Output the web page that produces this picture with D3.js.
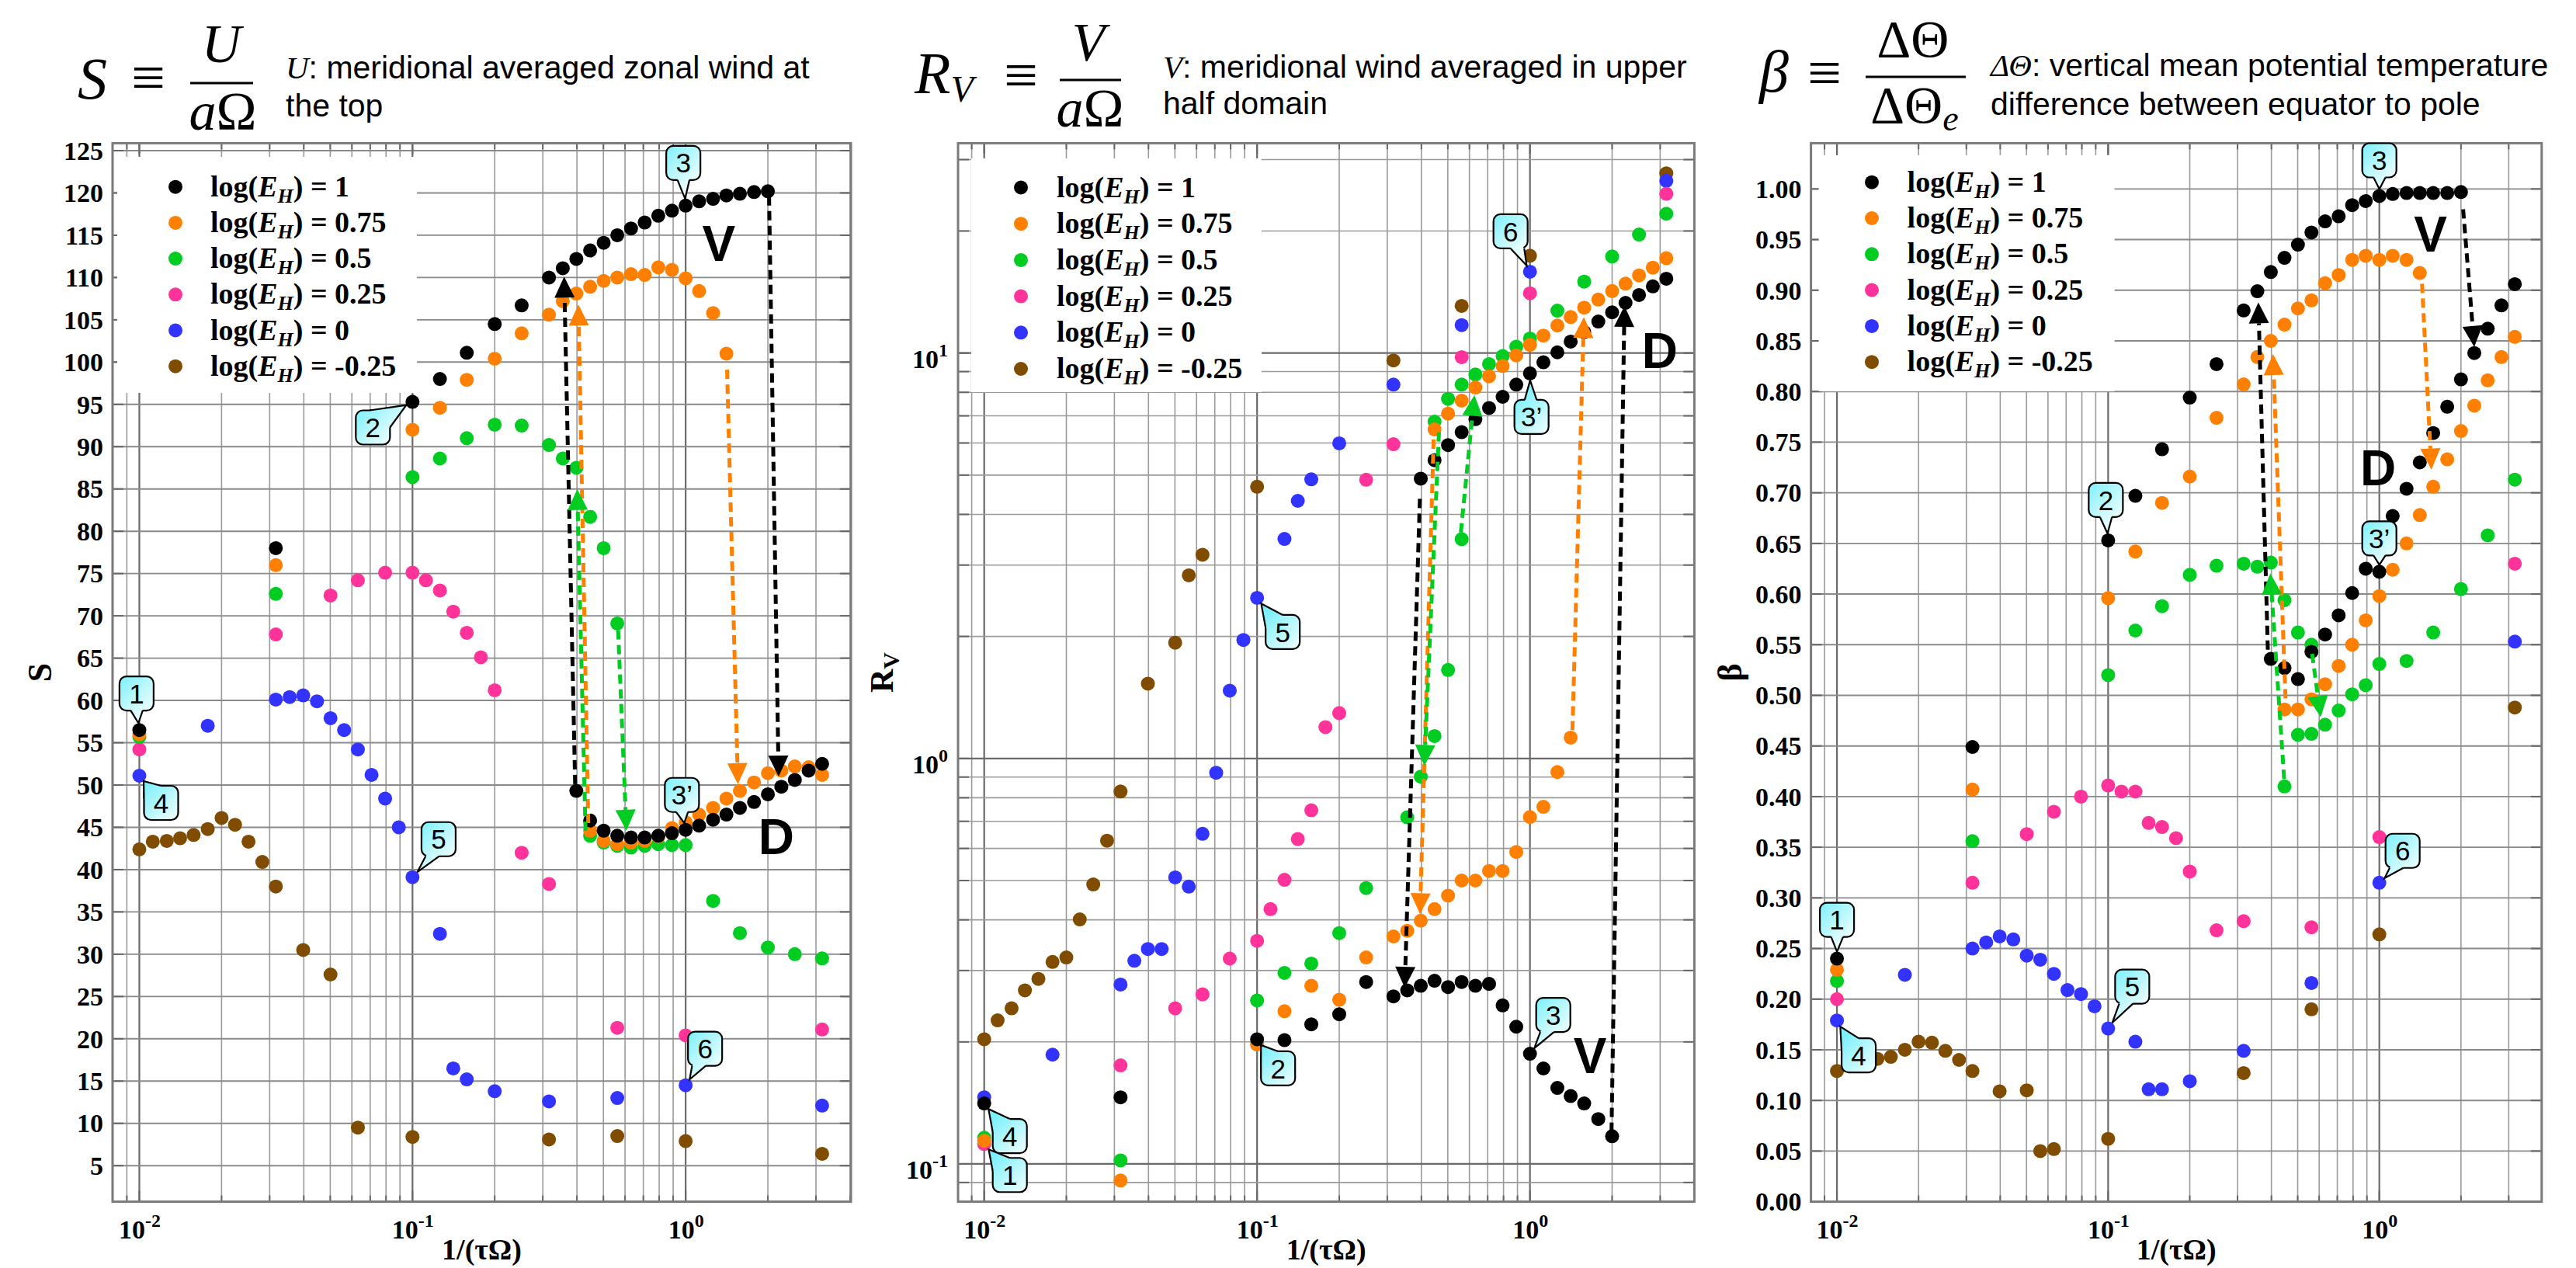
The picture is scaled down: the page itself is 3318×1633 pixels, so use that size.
<!DOCTYPE html>
<html><head><meta charset="utf-8">
<script src="https://cdn.jsdelivr.net/npm/d3@7"></script>
<style>body{margin:0;background:#fff}svg{display:block}</style>
</head><body>
<svg id="c" width="3318" height="1633"></svg>
<script>
// ================= DATA =================
const seriesLabels = ["1", "0.75", "0.5", "0.25", "0", "-0.25"];
const seriesColors = ["#000000", "#ff8000", "#00cc22", "#ff3399", "#3333ff", "#7f4c00"];

// ---- S panel ----
const S_EH1 = [[0.01,56.5],[0.0316,78.0],[0.1,95.3],[0.126,98.0],[0.158,101.1],[0.2,104.5],[0.251,106.7],[0.316,110.0],[0.355,111.1],[0.398,112.2],[0.447,113.2],[0.501,114.1],[0.562,115.0],[0.631,115.8],[0.708,116.5],[0.794,117.3],[0.891,117.9],[1,118.5],[1.12,119.0],[1.26,119.3],[1.41,119.7],[1.58,119.9],[1.78,120.1],[2.0,120.2],
  [0.398,49.3],[0.447,45.8],[0.501,44.6],[0.562,44.0],[0.631,43.8],[0.708,43.8],[0.794,44.0],[0.891,44.3],[1,44.7],[1.12,45.2],[1.26,45.9],[1.41,46.5],[1.58,47.3],[1.78,48.0],[2.0,48.9],[2.24,49.8],[2.51,50.6],[2.82,51.7],[3.16,52.5]];
const S_EH075 = [[0.01,56.0],[0.0316,76.0],[0.1,92.0],[0.126,94.6],[0.158,97.9],[0.2,100.4],[0.251,103.4],[0.316,105.6],[0.355,107.2],[0.398,108.1],[0.447,108.9],[0.501,109.6],[0.562,110.0],[0.631,110.4],[0.708,110.3],[0.794,111.2],[0.891,110.9],[1,109.9],[1.12,108.4],[1.26,105.8],[1.41,101.0],
  [0.447,44.6],[0.501,43.4],[0.562,43.0],[0.631,43.2],[0.708,43.4],[0.794,43.9],[0.891,44.9],[1,45.6],[1.12,46.5],[1.26,47.3],[1.41,48.4],[1.58,49.3],[1.78,50.3],[2.0,51.4],[2.24,51.7],[2.51,52.2],[2.82,52.1],[3.16,51.2]];
const S_EH05 = [[0.01,55.7],[0.0316,72.6],[0.1,86.4],[0.126,88.6],[0.158,91.0],[0.2,92.6],[0.251,92.5],[0.316,90.2],[0.355,88.6],[0.398,87.5],[0.447,81.7],[0.501,78.0],[0.562,69.1],
  [0.447,44.0],[0.501,43.2],[0.562,42.8],[0.631,42.6],[0.708,42.8],[0.794,43.0],[0.891,42.9],[1,42.9],[1.26,36.3],[1.58,32.5],[2.0,30.8],[2.51,30.0],[3.16,29.5]];
const S_EH025 = [[0.01,54.2],[0.0316,67.8],[0.0501,72.4],[0.0631,74.2],[0.0794,75.1],[0.1,75.1],[0.112,74.2],[0.126,73.0],[0.141,70.5],[0.158,68.0],[0.178,65.1],[0.2,61.2],[0.251,42.0],[0.316,38.3],[0.562,21.3],[1,20.4],[3.16,21.1]];
const S_EH0 = [[0.01,51.1],[0.0178,57.0],[0.0316,60.1],[0.0355,60.4],[0.0398,60.6],[0.0447,59.9],[0.0501,57.9],[0.0562,56.5],[0.0631,54.2],[0.0708,51.2],[0.0794,48.4],[0.0891,45.0],[0.1,39.1],[0.126,32.4],[0.141,16.5],[0.158,15.2],[0.2,13.8],[0.316,12.6],[0.562,13.0],[1,14.5],[3.16,12.1]];
const S_EHm025 = [[0.01,42.4],[0.0112,43.3],[0.0126,43.4],[0.0141,43.7],[0.0158,44.1],[0.0178,44.8],[0.02,46.1],[0.0224,45.3],[0.0251,43.3],[0.0282,40.9],[0.0316,38.0],[0.0398,30.5],[0.0501,27.6],[0.0631,9.5],[0.1,8.4],[0.316,8.1],[0.562,8.5],[1,7.9],[3.16,6.4]];

// ---- R_V panel ----
const RV_EH1 = [[0.01,0.141],[0.0316,0.146],[0.1,0.203],[0.126,0.202],[0.158,0.221],[0.2,0.234],[0.251,0.281],[0.316,0.259],[0.355,0.268],[0.398,0.275],[0.447,0.283],[0.501,0.273],[0.562,0.281],[0.631,0.275],[0.708,0.278],[0.794,0.246],[0.891,0.218],[1,0.187],[1.12,0.172],[1.26,0.154],[1.41,0.147],[1.58,0.141],[1.78,0.129],[2.0,0.117],
  [0.398,4.90],[0.447,5.44],[0.501,5.93],[0.562,6.38],[0.631,6.87],[0.708,7.32],[0.794,7.80],[0.891,8.36],[1,8.91],[1.12,9.49],[1.26,10.04],[1.41,10.67],[1.58,11.27],[1.78,11.96],[2.0,12.6],[2.24,13.3],[2.51,13.9],[2.82,14.6],[3.16,15.25]];
const RV_EH075 = [[0.01,0.114],[0.0316,0.091],[0.1,0.197],[0.126,0.238],[0.158,0.275],[0.2,0.254],[0.251,0.323],[0.316,0.364],[0.355,0.376],[0.398,0.398],[0.447,0.425],[0.501,0.459],[0.562,0.500],[0.631,0.500],[0.708,0.528],[0.794,0.528],[0.891,0.588],[1,0.717],[1.12,0.760],[1.26,0.926],[1.41,1.126],
  [0.447,6.48],[0.501,7.09],[0.562,7.63],[0.631,8.22],[0.708,8.76],[0.794,9.29],[0.891,9.87],[1,10.48],[1.12,11.04],[1.26,11.69],[1.41,12.27],[1.58,12.94],[1.78,13.55],[2.0,14.22],[2.24,14.83],[2.51,15.54],[2.82,16.24],[3.16,17.13]];
const RV_EH05 = [[0.01,0.116],[0.0316,0.102],[0.1,0.253],[0.126,0.296],[0.158,0.312],[0.2,0.371],[0.251,0.479],[0.355,0.716],[0.398,0.902],[0.447,1.136],[0.501,1.653],[0.562,3.475],
  [0.447,6.77],[0.501,7.71],[0.562,8.36],[0.631,8.85],[0.708,9.39],[0.794,9.83],[0.891,10.37],[1,10.86],[1.26,12.72],[1.58,15.0],[2.0,17.3],[2.51,19.6],[3.16,22.06]];
const RV_EH025 = [[0.01,0.112],[0.0316,0.175],[0.0501,0.242],[0.0631,0.262],[0.0794,0.321],[0.1,0.355],[0.112,0.425],[0.126,0.502],[0.141,0.633],[0.158,0.745],[0.178,1.195],[0.2,1.294],[0.251,4.87],[0.316,5.96],[0.562,9.77],[1,14.04],[3.16,24.7]];
const RV_EH0 = [[0.01,0.146],[0.0178,0.186],[0.0316,0.277],[0.0355,0.317],[0.0398,0.339],[0.0447,0.339],[0.0501,0.509],[0.0562,0.483],[0.0631,0.652],[0.0708,0.922],[0.0794,1.47],[0.0891,1.96],[0.1,2.49],[0.126,3.48],[0.141,4.32],[0.158,4.88],[0.2,5.99],[0.316,8.36],[0.562,11.72],[1,15.87],[3.16,26.6]];
const RV_EHm025 = [[0.01,0.203],[0.0112,0.226],[0.0126,0.242],[0.0141,0.268],[0.0158,0.286],[0.0178,0.315],[0.02,0.323],[0.0224,0.401],[0.0251,0.489],[0.0282,0.627],[0.0316,0.829],[0.0398,1.53],[0.0501,1.93],[0.0562,2.83],[0.0631,3.18],[0.1,4.68],[0.316,9.59],[0.562,13.07],[1,17.38],[3.16,27.76]];

// ---- beta panel ----
const B_EH1 = [[0.01,0.240],[0.0316,0.449],[0.1,0.653],[0.126,0.697],[0.158,0.743],[0.2,0.794],[0.251,0.827],[0.316,0.880],[0.355,0.899],[0.398,0.918],[0.447,0.932],[0.501,0.945],[0.562,0.957],[0.631,0.968],[0.708,0.973],[0.794,0.984],[0.891,0.988],[1,0.993],[1.12,0.995],[1.26,0.996],[1.41,0.996],[1.58,0.996],[1.78,0.996],[2.0,0.997],
  [0.398,0.536],[0.447,0.527],[0.501,0.516],[0.562,0.543],[0.631,0.560],[0.708,0.579],[0.794,0.601],[0.891,0.625],[1,0.622],[1.12,0.677],[1.26,0.704],[1.41,0.730],[1.58,0.759],[1.78,0.785],[2.0,0.812],[2.24,0.838],[2.51,0.862],[2.82,0.885],[3.16,0.906]];
const B_EH075 = [[0.01,0.229],[0.0316,0.407],[0.1,0.596],[0.126,0.642],[0.158,0.690],[0.2,0.716],[0.251,0.774],[0.316,0.807],[0.355,0.834],[0.398,0.850],[0.447,0.866],[0.501,0.882],[0.562,0.890],[0.631,0.907],[0.708,0.915],[0.794,0.930],[0.891,0.934],[1,0.930],[1.12,0.934],[1.26,0.930],[1.41,0.917],
  [0.447,0.486],[0.501,0.486],[0.562,0.496],[0.631,0.511],[0.708,0.529],[0.794,0.550],[0.891,0.574],[1,0.598],[1.12,0.624],[1.26,0.650],[1.41,0.678],[1.58,0.706],[1.78,0.733],[2.0,0.761],[2.24,0.786],[2.51,0.811],[2.82,0.834],[3.16,0.854]];
const B_EH05 = [[0.01,0.218],[0.0316,0.356],[0.1,0.520],[0.126,0.564],[0.158,0.588],[0.2,0.619],[0.251,0.628],[0.316,0.630],[0.355,0.627],[0.398,0.631],[0.447,0.594],[0.501,0.562],[0.562,0.550],
  [0.447,0.410],[0.501,0.461],[0.562,0.462],[0.631,0.471],[0.708,0.485],[0.794,0.501],[0.891,0.510],[1,0.531],[1.26,0.534],[1.58,0.562],[2.0,0.605],[2.51,0.658],[3.16,0.713]];
const B_EH025 = [[0.01,0.200],[0.0316,0.315],[0.0501,0.363],[0.0631,0.385],[0.0794,0.400],[0.1,0.411],[0.112,0.405],[0.126,0.405],[0.141,0.374],[0.158,0.370],[0.178,0.359],[0.2,0.326],[0.251,0.268],[0.316,0.277],[0.562,0.271],[1,0.360],[3.16,0.630]];
const B_EH0 = [[0.01,0.179],[0.0178,0.224],[0.0316,0.250],[0.0355,0.256],[0.0398,0.262],[0.0447,0.259],[0.0501,0.243],[0.0562,0.239],[0.0631,0.225],[0.0708,0.209],[0.0794,0.205],[0.0891,0.193],[0.1,0.171],[0.126,0.158],[0.141,0.111],[0.158,0.111],[0.2,0.119],[0.316,0.149],[0.562,0.216],[1,0.315],[3.16,0.553]];
const B_EHm025 = [[0.01,0.129],[0.0112,0.135],[0.0126,0.138],[0.0141,0.141],[0.0158,0.143],[0.0178,0.150],[0.02,0.158],[0.0224,0.157],[0.0251,0.149],[0.0282,0.140],[0.0316,0.129],[0.0398,0.109],[0.0501,0.110],[0.0562,0.050],[0.0631,0.052],[0.1,0.062],[0.316,0.127],[0.562,0.190],[1,0.264],[3.16,0.488]];

// ---- ticks ----
const xTickValues = [0.01, 0.1, 1];
const xTickExponents = ["-2", "-1", "0"];
const S_yTicks = [5,10,15,20,25,30,35,40,45,50,55,60,65,70,75,80,85,90,95,100,105,110,115,120,125];
const RV_yTicks = [0.1, 1, 10];
const RV_yTickExponents = ["-1", "0", "1"];
const B_yTicks = [0,0.05,0.1,0.15,0.2,0.25,0.3,0.35,0.4,0.45,0.5,0.55,0.6,0.65,0.7,0.75,0.8,0.85,0.9,0.95,1.0];
const B_yTickLabels = ["0.00","0.05","0.10","0.15","0.20","0.25","0.30","0.35","0.40","0.45","0.50","0.55","0.60","0.65","0.70","0.75","0.80","0.85","0.90","0.95","1.00"];

// ---- hysteresis arrows (series index, from, to) ----
const S_arrows = [[0,[0.394,50.1],[0.359,110.1]],[0,[2.02,119.6],[2.19,51.0]],[1,[0.44,45.5],[0.405,106.8]],[1,[1.418,99.1],[1.554,50.1]],[2,[0.43,44.6],[0.401,85.0]],[2,[0.566,68.3],[0.607,44.6]]];
const RV_arrows = [[0,[0.395,4.37],[0.3475,0.272]],[0,[1.99,0.120],[2.22,13.07]],[1,[0.4436,6.12],[0.3954,0.413]],[1,[1.431,1.174],[1.576,12.27]],[2,[0.464,6.38],[0.41,0.959]],[2,[0.558,3.61],[0.626,7.88]]];
const B_arrows = [[0,[0.388,0.545],[0.358,0.888]],[0,[2.037,0.98],[2.239,0.844]],[1,[0.4508,0.497],[0.4055,0.837]],[1,[1.437,0.9065],[1.556,0.723]],[2,[0.4457,0.4175],[0.3963,0.6204]],[2,[0.565,0.541],[0.608,0.4786]]];

// ---- callout bubbles: label and the data point they point at ----
const S_bubblePts = [["1",[0.01,56.5]],["2",[0.1,95.3]],["3",[1,118.5]],["3\u2019",[1,44.7]],["4",[0.01,51.1]],["5",[0.1,39.1]],["6",[1,14.5]]];
const RV_bubblePts = [["6",[1,15.87]],["3\u2019",[1,8.91]],["5",[0.1,2.49]],["2",[0.1,0.203]],["3",[1,0.187]],["4",[0.01,0.141]],["1",[0.01,0.112]]];
const B_bubblePts = [["3",[1,0.993]],["2",[0.1,0.653]],["3\u2019",[1,0.622]],["1",[0.01,0.240]],["4",[0.01,0.179]],["5",[0.1,0.171]],["6",[1,0.315]]];

// ---- state labels V / D ----
const S_marks = [["V",[1.323,114.1]],["D",[2.148,43.9]]];
const RV_marks = [["V",[1.66,0.1854]],["D",[2.99,10.16]]];
const B_marks = [["V",[1.543,0.956]],["D",[0.989,0.725]]];

// ================= LAYOUT =================
const SERIF = "'Liberation Serif','Times New Roman',serif";
const SANS = "'Liberation Sans',Arial,sans-serif";
const MATH = "'Liberation Serif','DejaVu Serif',serif";
const TAILS = {b:[[0.33,1],[0.68,1]], t:[[0.3,0],[0.65,0]], tl:[[0.5,0],[0,0.38]], bl:[[0.12,1],[0.52,1]], tr:[[0.4,0],[1,0.5]], br:[[0.5,1],[0.9,1]]};
const S_bubbleLayout = [[-3.6,-47,"b"],[-51,33,"tr"],[-3,-55,"b"],[-4.8,-45,"b"],[28,35,"tl"],[33.6,-49,"bl"],[25,-47,"bl"]];
const RV_bubbleLayout = [[-25,-52,"br"],[2,56,"t"],[33,44,"tl"],[27,37.5,"tl"],[30,-50,"bl"],[33,42,"tl"],[33,40,"tl"]];
const B_bubbleLayout = [[0,-46,"b"],[-3,-52,"b"],[0,-43,"b"],[0,-50,"b"],[28,45,"tl"],[31,-54,"bl"],[30,-41,"bl"]];

const panels = [
  {left:145, right:1096, top:184.4, bottom:1547.6, xDomain:[0.00798,4.027], yLog:false, yDomain:[0.74,125.88],
   data:[S_EH1,S_EH075,S_EH05,S_EH025,S_EH0,S_EHm025], arrows:S_arrows, bubbles:S_bubblePts, bl:S_bubbleLayout, marks:S_marks,
   legend:{bx0:6,bx1:392,by0:202,by1:506,mx:81,tx:126,y0:240.7,dy:46.2}},
  {left:1234, right:2182.4, top:184.4, bottom:1547.6, xDomain:[0.00802,4.003], yLog:true, yDomain:[0.0807,32.93],
   data:[RV_EH1,RV_EH075,RV_EH05,RV_EH025,RV_EH0,RV_EHm025], arrows:RV_arrows, bubbles:RV_bubblePts, bl:RV_bubbleLayout, marks:RV_marks,
   legend:{bx0:17,bx1:391,by0:204,by1:505,mx:81,tx:127,y0:241.5,dy:46.7}},
  {left:2332.6, right:3273.8, top:184.4, bottom:1547.6, xDomain:[0.00802,3.969], yLog:false, yDomain:[0,1.0452],
   data:[B_EH1,B_EH075,B_EH05,B_EH025,B_EH0,B_EHm025], arrows:B_arrows, bubbles:B_bubblePts, bl:B_bubbleLayout, marks:B_marks,
   legend:{bx0:10,bx1:391,by0:200,by1:504,mx:78.4,tx:124,y0:234.7,dy:46.3}}
];

const svg = d3.select("#c");
svg.append("rect").attr("width",3318).attr("height",1633).attr("fill","#fff");
const defs = svg.append("defs");
let gradN = 0;

function logGridValues(dom){
  const out=[];
  for(let e=-3;e<=1;e++) for(let m=1;m<=9;m++){
    const v = +(m*Math.pow(10,e)).toPrecision(3);
    if(v>dom[0]*1.004 && v<dom[1]/1.004) out.push({v, major:m===1});
  }
  return out;
}

panels.forEach((p,pi)=>{
  const g = svg.append("g");
  const x = d3.scaleLog().domain(p.xDomain).range([p.left,p.right]);
  const y = (p.yLog? d3.scaleLog() : d3.scaleLinear()).domain(p.yDomain).range([p.bottom,p.top]);
  const W = p.right-p.left, Hh = p.bottom-p.top;

  // vertical grid
  const xg = logGridValues(p.xDomain);
  g.append("g").selectAll("line").data(xg).join("line")
    .attr("x1",d=>x(d.v)).attr("x2",d=>x(d.v)).attr("y1",p.top).attr("y2",p.bottom)
    .attr("stroke",d=>d.major?"#6a6a6a":"#9a9a9a").attr("stroke-width",d=>d.major?2.2:1.6);
  // horizontal grid
  let yg;
  if(p.yLog) yg = logGridValues(p.yDomain);
  else if(pi===0) yg = S_yTicks.map(v=>({v,major:false}));
  else yg = B_yTicks.filter(v=>v>0).map(v=>({v,major:false}));
  g.append("g").selectAll("line").data(yg).join("line")
    .attr("x1",p.left).attr("x2",p.right).attr("y1",d=>y(d.v)).attr("y2",d=>y(d.v))
    .attr("stroke",d=>p.yLog?(d.major?"#6a6a6a":"#9a9a9a"):"#8a8a8a").attr("stroke-width",d=>p.yLog?(d.major?2.2:1.6):1.9);
  // frame ticks
  const tk = g.append("g").attr("stroke","#666").attr("stroke-width",2);
  xg.forEach(d=>{const L=d.major?14:8; const xx=x(d.v);
    tk.append("line").attr("x1",xx).attr("x2",xx).attr("y1",p.bottom).attr("y2",p.bottom-L);
    tk.append("line").attr("x1",xx).attr("x2",xx).attr("y1",p.top).attr("y2",p.top+L);});
  yg.forEach(d=>{const L=14; const yy=y(d.v);
    tk.append("line").attr("y1",yy).attr("y2",yy).attr("x1",p.left).attr("x2",p.left+L);
    tk.append("line").attr("y1",yy).attr("y2",yy).attr("x1",p.right).attr("x2",p.right-L);});

  // legend background
  const lg = p.legend;
  g.append("rect").attr("x",p.left+lg.bx0).attr("y",lg.by0).attr("width",lg.bx1-lg.bx0).attr("height",lg.by1-lg.by0).attr("fill","#fff");

  // frame
  g.append("rect").attr("x",p.left).attr("y",p.top).attr("width",W).attr("height",Hh)
    .attr("fill","none").attr("stroke","#7a7a7a").attr("stroke-width",3);

  // x axis labels
  const ax = g.append("g").attr("transform",`translate(0,${p.bottom})`)
    .call(d3.axisBottom(x).tickValues(xTickValues).tickSize(0).tickFormat(""));
  ax.select(".domain").remove();
  ax.selectAll(".tick text").each(function(d,i){
    const t=d3.select(this).attr("y",47).attr("dy",0).attr("fill","#000")
      .attr("font-family",SERIF).attr("font-weight","bold").attr("font-size",34);
    t.append("tspan").text("10");
    t.append("tspan").attr("dy",-15).attr("font-size",24).text(xTickExponents[i]);
  });
  // y axis labels
  if(pi===1){
    const ay = g.append("g").attr("transform",`translate(${p.left},0)`)
      .call(d3.axisLeft(y).tickValues(RV_yTicks).tickSize(0).tickFormat(""));
    ay.select(".domain").remove();
    ay.selectAll(".tick text").each(function(d,i){
      const t=d3.select(this).attr("x",-13).attr("y",19).attr("dy",0).attr("fill","#000")
        .attr("font-family",SERIF).attr("font-weight","bold").attr("font-size",34);
      t.append("tspan").text("10");
      t.append("tspan").attr("dy",-15).attr("font-size",24).text(RV_yTickExponents[i]);
    });
  } else {
    const vals = pi===0?S_yTicks:B_yTicks;
    const ay = g.append("g").attr("transform",`translate(${p.left},0)`)
      .call(d3.axisLeft(y).tickValues(vals).tickSize(0).tickPadding(12)
        .tickFormat((d,i)=> pi===0? String(d) : B_yTickLabels[i]));
    ay.select(".domain").remove();
    ay.selectAll(".tick text").attr("fill","#000").attr("font-family",SERIF).attr("font-weight","bold")
      .attr("font-size",34).attr("dy","0.33em");
  }

  // x title
  g.append("text").attr("x",(p.left+p.right)/2).attr("y",1622).attr("text-anchor","middle")
    .attr("font-family",SERIF).attr("font-weight","bold").attr("font-size",38).text("1/(\u03c4\u03a9)");

  // legend entries
  seriesLabels.forEach((lab,i)=>{
    const yy = lg.y0 + i*lg.dy;
    g.append("circle").attr("cx",p.left+lg.mx).attr("cy",yy).attr("r",9).attr("fill",seriesColors[i]);
    const t = g.append("text").attr("x",p.left+lg.tx).attr("y",yy+12).attr("font-family",SERIF)
      .attr("font-weight","bold").attr("font-size",38).attr("fill","#000");
    t.append("tspan").text("log(");
    t.append("tspan").attr("font-style","italic").text("E");
    t.append("tspan").attr("font-style","italic").attr("font-size",26).attr("dy",8).text("H");
    t.append("tspan").attr("dy",-8).text(") = "+lab);
  });

  // points (last series drawn first so black is on top)
  const pts = g.append("g");
  for(let s=p.data.length-1;s>=0;s--){
    pts.append("g").selectAll("circle").data(p.data[s]).join("circle")
      .attr("cx",d=>x(d[0])).attr("cy",d=>y(d[1])).attr("r",9).attr("fill",seriesColors[s]);
  }

  // arrows
  const ag = g.append("g");
  p.arrows.forEach(([si,a,b])=>{
    const x1=x(a[0]),y1=y(a[1]),x2=x(b[0]),y2=y(b[1]);
    const dx=x2-x1,dy=y2-y1,L=Math.hypot(dx,dy),ux=dx/L,uy=dy/L,hl=27,hw=13;
    const bx=x2-ux*hl,by=y2-uy*hl;
    ag.append("line").attr("x1",x1).attr("y1",y1).attr("x2",bx).attr("y2",by)
      .attr("stroke",seriesColors[si]).attr("stroke-width",5).attr("stroke-dasharray","12,7");
    ag.append("path").attr("d",`M${x2},${y2}L${bx-uy*hw},${by+ux*hw}L${bx+uy*hw},${by-ux*hw}Z`).attr("fill",seriesColors[si]);
  });

  // V / D marks
  p.marks.forEach(([lab,pt])=>{
    g.append("text").attr("x",x(pt[0])).attr("y",y(pt[1])).attr("dy","0.36em").attr("text-anchor","middle")
      .attr("font-family",SANS).attr("font-weight","bold").attr("font-size",64).attr("fill","#000").text(lab);
  });

  // bubbles
  p.bubbles.forEach(([lab,pt],i)=>{
    const [ox,oy,tail] = p.bl[i];
    const tx=x(pt[0]), ty=y(pt[1]);
    const cx=tx+ox, cy=ty+oy, w=44, h=44, x0=cx-w/2, y0=cy-h/2;
    const id="bg"+(gradN++);
    const gr=defs.append("linearGradient").attr("id",id).attr("gradientUnits","userSpaceOnUse")
      .attr("x1",x0).attr("y1",y0).attr("x2",x0+w).attr("y2",y0+h);
    gr.append("stop").attr("offset",0).attr("stop-color","#7cf0fb");
    gr.append("stop").attr("offset",1).attr("stop-color","#f3ffff");
    const tb = TAILS[tail];
    const b1=[x0+tb[0][0]*w, y0+tb[0][1]*h], b2=[x0+tb[1][0]*w, y0+tb[1][1]*h];
    const mx=(b1[0]+b2[0])/2, my=(b1[1]+b2[1])/2;
    const dl=Math.hypot(mx-tx,my-ty);
    const px=tx+(mx-tx)/dl*9, py=ty+(my-ty)/dl*9;
    const bg=g.append("g");
    bg.append("rect").attr("x",x0).attr("y",y0).attr("width",w).attr("height",h).attr("rx",9)
      .attr("fill",`url(#${id})`).attr("stroke","#000").attr("stroke-width",2.2);
    bg.append("path").attr("d",`M${cx},${cy}L${b1[0]},${b1[1]}L${px},${py}L${b2[0]},${b2[1]}Z`).attr("fill",`url(#${id})`);
    bg.append("path").attr("d",`M${b1[0]},${b1[1]}L${px},${py}L${b2[0]},${b2[1]}`).attr("fill","none")
      .attr("stroke","#000").attr("stroke-width",2.2).attr("stroke-linejoin","miter");
    bg.append("text").attr("x",cx).attr("y",cy).attr("dy","0.36em").attr("text-anchor","middle")
      .attr("font-family",SANS).attr("font-size",35).attr("fill","#000").text(lab);
  });
});

// ---------- axis titles ----------
svg.append("text").attr("transform","translate(66,866) rotate(-90)").attr("text-anchor","middle")
  .attr("font-family",SERIF).attr("font-weight","bold").attr("font-size",44).text("S");
const rv = svg.append("text").attr("transform","translate(1150,866) rotate(-90)").attr("text-anchor","middle")
  .attr("font-family",SERIF).attr("font-weight","bold").attr("font-size",42);
rv.append("tspan").text("R"); rv.append("tspan").attr("font-size",30).attr("dy",8).text("V");
svg.append("text").attr("transform","translate(2243,866) rotate(-90)").attr("text-anchor","middle")
  .attr("font-family",SERIF).attr("font-weight","bold").attr("font-size",44).text("\u03b2");

// ---------- header formulas ----------
function txt(x,y,size,opts){
  const t=svg.append("text").attr("x",x).attr("y",y).attr("font-size",size).attr("font-family",opts.f||MATH).attr("fill","#000");
  if(opts.anchor) t.attr("text-anchor",opts.anchor);
  return t;
}
function bar(x1,x2,yy){ svg.append("line").attr("x1",x1).attr("x2",x2).attr("y1",yy).attr("y2",yy).attr("stroke","#000").attr("stroke-width",3); }

// panel 1
txt(100,127,76,{}).attr("font-style","italic").text("S");
txt(191,126,78,{anchor:"middle"}).text("\u2261");
bar(245,326,107);
txt(285,80,70,{anchor:"middle"}).attr("font-style","italic").text("U");
{const t=txt(287,167,70,{anchor:"middle"}); t.append("tspan").attr("font-style","italic").text("a"); t.append("tspan").text("\u03a9");}
{const t=txt(368,101,41,{f:SANS}); t.append("tspan").attr("font-family",SERIF).attr("font-style","italic").text("U"); t.append("tspan").text(": meridional averaged zonal wind at");}
txt(368,150,41,{f:SANS}).text("the top");

// panel 2
{const t=txt(1178,120,76,{}); t.append("tspan").attr("font-style","italic").text("R"); t.append("tspan").attr("font-style","italic").attr("font-size",48).attr("dy",11).text("V");}
txt(1315,123,78,{anchor:"middle"}).text("\u2261");
bar(1365,1444,103);
txt(1402,78,70,{anchor:"middle"}).attr("font-style","italic").text("V");
{const t=txt(1404,163,70,{anchor:"middle"}); t.append("tspan").attr("font-style","italic").text("a"); t.append("tspan").text("\u03a9");}
{const t=txt(1498,100,41,{f:SANS}); t.append("tspan").attr("font-family",SERIF).attr("font-style","italic").text("V"); t.append("tspan").text(": meridional wind averaged in upper");}
txt(1498,147,41,{f:SANS}).text("half domain");

// panel 3
txt(2266,118,76,{}).attr("font-style","italic").text("\u03b2");
txt(2350,120,78,{anchor:"middle"}).text("\u2261");
bar(2403,2532,99);
txt(2464,73,68,{anchor:"middle"}).text("\u0394\u0398");
{const t=txt(2466,158,68,{anchor:"middle"}); t.append("tspan").text("\u0394\u0398"); t.append("tspan").attr("font-style","italic").attr("font-size",46).attr("dy",10).text("e");}
{const t=txt(2564,98,41,{f:SANS}); t.append("tspan").attr("font-family",SERIF).attr("font-style","italic").text("\u0394\u0398"); t.append("tspan").text(": vertical mean potential temperature");}
txt(2564,148,41,{f:SANS}).text("difference between equator to pole");
</script>
</body></html>
